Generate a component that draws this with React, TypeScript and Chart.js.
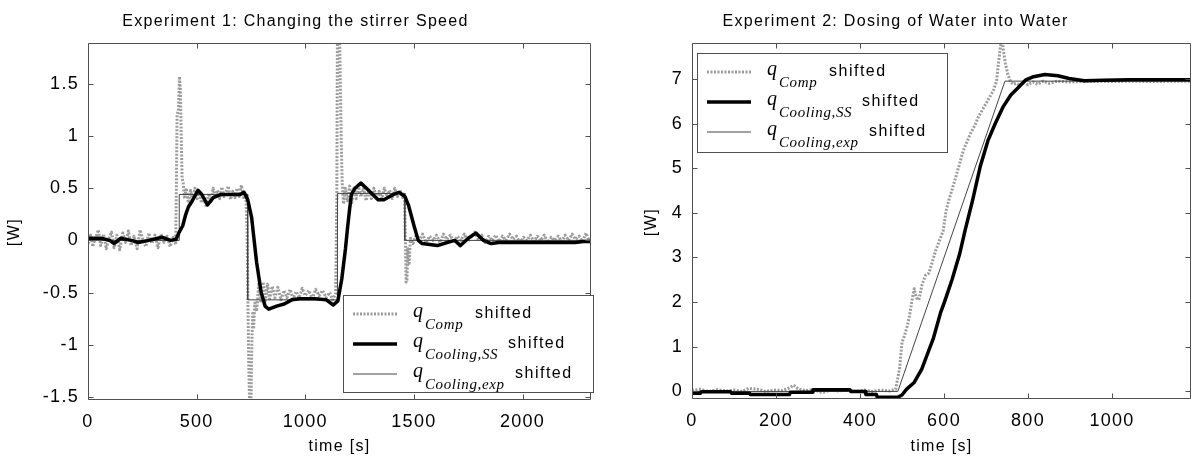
import React, { useEffect, useRef } from 'react';
import { Chart, registerables } from 'chart.js';

Chart.register(...registerables);

const SANS = '"Liberation Sans", Arial, Helvetica, sans-serif';
const SERIF = '"Liberation Serif", "Times New Roman", serif';

// ---------------- Experiment 1 ----------------
const exp1Title = 'Experiment 1: Changing the stirrer Speed';
const exp1XTicks = [0, 500, 1000, 1500, 2000];
const exp1YTicks = [-1.5, -1, -0.5, 0, 0.5, 1, 1.5];
const exp1XRange = [0, 2315];
const exp1YRange = [-1.53, 1.89];

const exp1CompTime = [
  0, 12, 22, 35, 48, 58, 72, 84, 96, 108, 120, 133, 146, 160, 172, 186, 198, 212, 226, 240,
  252, 266, 280, 294, 308, 322, 336, 350, 364, 378, 392, 404, 410, 416, 421, 425, 429, 433, 438, 444,
  452, 462, 472, 482, 492, 502, 512, 522, 532, 544, 556, 566, 576, 586, 596, 606, 616, 626, 636, 646,
  656, 666, 676, 686, 696, 706, 716, 726, 732, 736, 740, 744, 750, 754, 758, 762, 768, 776, 786, 796,
  806, 816, 826, 836, 848, 860, 874, 888, 902, 916, 930, 944, 958, 972, 986, 1000, 1016, 1032, 1048, 1064,
  1080, 1096, 1112, 1126, 1140, 1145, 1148, 1158, 1162, 1166, 1170, 1176, 1184, 1194, 1204, 1214, 1224, 1234, 1244, 1256,
  1268, 1280, 1292, 1304, 1316, 1328, 1340, 1352, 1364, 1376, 1388, 1400, 1412, 1424, 1436, 1448, 1456, 1460, 1464, 1468,
  1472, 1478, 1484, 1496, 1510, 1524, 1540, 1556, 1572, 1588, 1604, 1620, 1636, 1652, 1668, 1684, 1700, 1716, 1732, 1748,
  1764, 1780, 1796, 1812, 1828, 1844, 1860, 1876, 1892, 1908, 1924, 1940, 1956, 1972, 1988, 2004, 2020, 2036, 2052, 2068,
  2084, 2100, 2116, 2132, 2148, 2164, 2180, 2196, 2212, 2228, 2244, 2260, 2276, 2292, 2304, 2315,
];
const exp1CompValue = [
  -0.03, 0.05, -0.06, 0.03, 0.1, -0.05, 0.06, -0.08, 0.02, 0.08, -0.07, 0.05, -0.09, 0.07, -0.02, 0.09, -0.05, 0.04, -0.08, 0.1,
  0.01, -0.06, 0.07, -0.03, 0.05, -0.07, 0.06, -0.02, 0.04, -0.06, 0.03, -0.04, 1.2, 1.25, 1.57, 1.45, 1.0, 0.6, 0.55, 0.4,
  0.5, 0.36, 0.48, 0.38, 0.5, 0.4, 0.47, 0.36, 0.42, 0.32, 0.45, 0.37, 0.5, 0.41, 0.48, 0.4, 0.51, 0.42, 0.47, 0.52,
  0.39, 0.47, 0.41, 0.5, 0.42, 0.53, 0.41, 0.46, 0.1, -0.6, -1.2, -1.58, -1.58, -1.0, -0.7, -0.85, -0.6, -0.68, -0.42, -0.6,
  -0.4, -0.58, -0.42, -0.56, -0.44, -0.55, -0.45, -0.57, -0.48, -0.55, -0.47, -0.56, -0.49, -0.55, -0.46, -0.53, -0.48, -0.56, -0.47, -0.53,
  -0.48, -0.55, -0.5, -0.57, -0.51, 0.4, 1.95, 1.95, 1.4, 0.9, 0.55, 0.35, 0.5, 0.38, 0.52, 0.36, 0.5, 0.4, 0.53, 0.42,
  0.5, 0.38, 0.48, 0.4, 0.5, 0.39, 0.47, 0.4, 0.5, 0.42, 0.48, 0.4, 0.5, 0.42, 0.48, 0.41, 0.46, 0.1, -0.4, -0.38,
  -0.08, -0.22, 0.02, -0.03, 0.05, 0.0, 0.06, -0.02, 0.04, 0.0, 0.05, -0.02, 0.06, 0.01, 0.05, -0.02, 0.04, 0.0, 0.06, -0.01,
  0.04, 0.08, 0.01, 0.05, -0.02, 0.04, 0.0, 0.05, -0.01, 0.04, 0.0, 0.06, 0.01, 0.04, -0.02, 0.03, 0.0, 0.05, -0.01, 0.04,
  0.0, 0.05, -0.02, 0.03, 0.0, 0.04, -0.01, 0.05, 0.0, 0.06, 0.01, 0.04, -0.01, 0.07, 0.0, 0.02,
];

const exp1SsTime = [
  0, 60, 100, 120, 150, 200, 230, 280, 340, 380, 405, 420, 436, 450, 462, 480, 506, 524, 550, 577,
  612, 700, 718, 735, 753, 762, 776, 797, 815, 832, 868, 903, 938, 974, 1044, 1097, 1129, 1150, 1168, 1185,
  1194, 1203, 1212, 1229, 1256, 1291, 1335, 1362, 1406, 1432, 1459, 1476, 1503, 1520, 1538, 1573, 1608, 1653, 1688, 1714,
  1750, 1785, 1820, 1855, 1891, 1979, 2067, 2155, 2243, 2279, 2315,
];
const exp1SsValue = [
  0.02, 0.02, 0.0, -0.03, 0.02, 0.0, -0.02, 0.0, 0.03, 0.0, 0.01, 0.08, 0.14, 0.25, 0.32, 0.38, 0.48, 0.44, 0.34, 0.41,
  0.44, 0.44, 0.46, 0.39, 0.22, 0.05, -0.21, -0.5, -0.63, -0.66, -0.63, -0.61, -0.57, -0.56, -0.56, -0.57, -0.62, -0.58, -0.37, -0.08,
  0.11, 0.28, 0.44, 0.5, 0.55, 0.48, 0.39, 0.39, 0.44, 0.46, 0.42, 0.33, 0.12, 0.0, -0.03, -0.04, -0.05, -0.02, 0.0, -0.05,
  0.02, 0.07, 0.0, -0.03, -0.02, -0.02, -0.02, -0.02, -0.02, -0.01, -0.01,
];

const exp1ExpTime = [0, 420, 420, 735, 735, 1148, 1148, 1458, 1458, 2315];
const exp1ExpValue = [0, 0, 0.44, 0.44, -0.57, -0.57, 0.45, 0.45, 0, 0];

// ---------------- Experiment 2 ----------------
const exp2Title = 'Experiment 2: Dosing of Water into Water';
const exp2XTicks = [0, 200, 400, 600, 800, 1000];
const exp2YTicks = [0, 1, 2, 3, 4, 5, 6, 7];
const exp2XRange = [0, 1188];
const exp2YRange = [-0.17, 7.8];

const exp2CompTime = [
  0, 20, 40, 60, 80, 100, 120, 135, 155, 175, 195, 215, 232, 242, 252, 270, 290, 310, 330, 350,
  370, 390, 410, 430, 450, 470, 485, 490, 494, 500, 506, 512, 518, 524, 529, 534, 540, 548, 556, 564,
  572, 580, 590, 598, 605, 612, 620, 628, 637, 646, 655, 664, 673, 682, 691, 700, 709, 718, 725, 729,
  734, 738, 742, 746, 752, 758, 764, 772, 780, 790, 800, 812, 824, 836, 850, 870, 900, 950, 1000, 1050,
  1100, 1150, 1188,
];
const exp2CompValue = [
  0.02, 0.05, 0.0, 0.04, 0.01, 0.03, 0.0, 0.07, 0.05, 0.0, 0.03, 0.02, 0.08, 0.14, 0.06, 0.02, 0.04, -0.03, 0.03, 0.01,
  0.04, 0.0, 0.03, 0.0, 0.03, 0.01, 0.05, 0.3, 0.5, 1.1, 1.25, 1.45, 1.7, 2.05, 2.3, 2.1, 2.05, 2.4, 2.6, 2.65,
  2.9, 3.15, 3.4, 3.6, 4.05, 4.3, 4.55, 4.8, 5.1, 5.4, 5.6, 5.8, 5.95, 6.15, 6.3, 6.45, 6.6, 6.75, 6.95, 7.3,
  7.7, 7.9, 7.6, 7.35, 7.1, 6.95, 6.88, 6.9, 6.86, 6.92, 6.87, 6.93, 6.88, 6.95, 6.9, 6.95, 6.93, 6.95, 6.94, 6.95,
  6.94, 6.95, 6.95,
];

const exp2SsTime = [
  0, 20, 22, 92, 94, 137, 139, 232, 234, 286, 288, 376, 378, 412, 414, 439, 441, 490, 500, 511,
  529, 547, 565, 574, 592, 601, 619, 637, 650, 668, 686, 705, 722, 741, 759, 777, 795, 813, 840, 871,
  898, 934, 979, 1042, 1188,
];
const exp2SsValue = [
  -0.04, -0.04, -0.01, -0.01, -0.04, -0.04, -0.07, -0.07, -0.02, -0.02, 0.04, 0.04, 0.0, 0.0, -0.07, -0.07, -0.13, -0.13, -0.08, 0.05,
  0.2, 0.5, 0.95, 1.17, 1.77, 2.0, 2.5, 3.07, 3.6, 4.28, 5.03, 5.63, 6.0, 6.38, 6.64, 6.81, 6.98, 7.05, 7.1, 7.07,
  7.01, 6.96, 6.97, 6.98, 6.98,
];

const exp2ExpTime = [0, 490, 745, 1188];
const exp2ExpValue = [0, 0, 6.95, 6.95];

// ---------------- Labels ----------------
const xAxisLabel = 'time [s]';
const yAxisLabel = '[W]';
const legendSymbol = 'q';
const legendSubscripts = ['Comp', 'Cooling,SS', 'Cooling,exp'];
const legendSuffix = 'shifted';

// ---------------- Styles ----------------
const compStyle = { color: '#9c9c9c', width: 3, dash: [2, 1.5] };
const ssStyle = { color: '#000000', width: 3.5, dash: [] as number[] };
const expStyle = { color: '#444444', width: 1, dash: [] as number[] };
const legendStyles = [compStyle, ssStyle, expStyle];
const legendSuffixX = [132, 165, 172];

function pts(t: number[], v: number[]) {
  return t.map((x, i) => ({ x, y: v[i] }));
}

const framePlugin = {
  id: 'matlabFrame',
  beforeDraw(chart: any) {
    chart.ctx.letterSpacing = '1.3px';
  },
  afterDatasetsDraw(chart: any) {
    const { ctx, chartArea: a } = chart;
    const xs = chart.scales.x;
    const ys = chart.scales.y;
    const L = Math.round(a.left) + 0.5;
    const R = Math.round(a.right) - 0.5;
    const T = Math.round(a.top) + 0.5;
    const B = Math.round(a.bottom) - 0.5;
    const tl = 5;
    ctx.save();
    ctx.setLineDash([]);
    ctx.strokeStyle = '#505050';
    ctx.lineWidth = 1;
    ctx.beginPath();
    ctx.rect(L, T, R - L, B - T);
    xs.ticks.forEach((t: any) => {
      const px = Math.round(xs.getPixelForValue(t.value)) + 0.5;
      ctx.moveTo(px, B);
      ctx.lineTo(px, B - tl);
      ctx.moveTo(px, T);
      ctx.lineTo(px, T + tl);
    });
    ys.ticks.forEach((t: any) => {
      const py = Math.round(ys.getPixelForValue(t.value)) + 0.5;
      ctx.moveTo(L, py);
      ctx.lineTo(L + tl, py);
      ctx.moveTo(R, py);
      ctx.lineTo(R - tl, py);
    });
    ctx.stroke();
    ctx.restore();
  },
};

function makeYLabel(cx: number, cy: number) {
  return {
    id: 'yLabel',
    afterDraw(chart: any) {
      const ctx = chart.ctx;
      ctx.save();
      ctx.translate(cx, cy);
      ctx.rotate(-Math.PI / 2);
      ctx.font = `16px ${SANS}`;
      ctx.letterSpacing = '1.5px';
      ctx.fillStyle = '#000000';
      ctx.textAlign = 'center';
      ctx.textBaseline = 'middle';
      ctx.fillText(yAxisLabel, 0, 0);
      ctx.restore();
    },
  };
}

function makeLegend(box: { x: number; y: number; w: number; h: number }) {
  return {
    id: 'qLegend',
    afterDraw(chart: any) {
      const ctx = chart.ctx;
      ctx.save();
      ctx.letterSpacing = '0px';
      ctx.setLineDash([]);
      ctx.fillStyle = '#ffffff';
      ctx.fillRect(box.x, box.y, box.w, box.h);
      ctx.strokeStyle = '#505050';
      ctx.lineWidth = 1;
      ctx.strokeRect(box.x + 0.5, box.y + 0.5, box.w - 1, box.h - 1);
      legendSubscripts.forEach((sub, i) => {
        const st = legendStyles[i];
        const cy = box.y + 19 + i * 30;
        ctx.beginPath();
        ctx.setLineDash(st.dash);
        ctx.strokeStyle = st.color;
        ctx.lineWidth = st.width;
        ctx.moveTo(box.x + 10, cy);
        ctx.lineTo(box.x + 54, cy);
        ctx.stroke();
        ctx.setLineDash([]);
        ctx.fillStyle = '#000000';
        ctx.textAlign = 'left';
        ctx.textBaseline = 'alphabetic';
        ctx.font = `italic 20px ${SERIF}`;
        ctx.letterSpacing = '0px';
        ctx.fillText(legendSymbol, box.x + 70, cy + 3);
        ctx.font = `italic 15px ${SERIF}`;
        ctx.letterSpacing = '0.6px';
        ctx.fillText(sub, box.x + 82, cy + 15);
        ctx.font = `16px ${SANS}`;
        ctx.letterSpacing = '1.5px';
        ctx.fillText(legendSuffix, box.x + legendSuffixX[i], cy + 4);
      });
      ctx.restore();
    },
  };
}

interface PanelCfg {
  title: string;
  xTicks: number[];
  yTicks: number[];
  xRange: number[];
  yRange: number[];
  comp: { x: number; y: number }[];
  ss: { x: number; y: number }[];
  exp: { x: number; y: number }[];
  yAxisWidth: number;
  xAxisHeight: number;
  rightPad: number;
  yLabelPos: number[];
  legendBox: { x: number; y: number; w: number; h: number };
}

function buildConfig(p: PanelCfg): any {
  const lineDs = (label: string, data: any[], st: any, order: number) => ({
    label,
    data,
    borderColor: st.color,
    borderWidth: st.width,
    borderDash: st.dash,
    pointRadius: 0,
    pointHoverRadius: 0,
    tension: 0,
    fill: false,
    order,
    clip: 0,
    borderJoinStyle: 'round',
    borderCapStyle: st.dash.length ? 'butt' : 'round',
  });
  return {
    type: 'line',
    data: {
      datasets: [
        lineDs('q_Comp shifted', p.comp, compStyle, 2),
        lineDs('q_Cooling,SS shifted', p.ss, ssStyle, 0),
        lineDs('q_Cooling,exp shifted', p.exp, expStyle, 1),
      ],
    },
    options: {
      responsive: false,
      animation: false,
      events: [],
      layout: { padding: { top: 0, left: 0, bottom: 0, right: p.rightPad } },
      plugins: {
        legend: { display: false },
        tooltip: { enabled: false },
        title: {
          display: true,
          text: p.title,
          color: '#000000',
          font: { family: SANS, size: 16, weight: 'normal', lineHeight: 1.2 },
          padding: { top: 12, bottom: 12 },
        },
      },
      scales: {
        x: {
          type: 'linear',
          min: p.xRange[0],
          max: p.xRange[1],
          grid: { display: false, drawTicks: false },
          border: { display: false },
          afterBuildTicks: (scale: any) => {
            scale.ticks = p.xTicks.map((v) => ({ value: v }));
          },
          afterFit: (scale: any) => {
            scale.height = p.xAxisHeight;
          },
          ticks: {
            autoSkip: false,
            maxRotation: 0,
            padding: 11,
            color: '#000000',
            font: { family: SANS, size: 18 },
            callback: (v: any) => String(v),
          },
          title: {
            display: true,
            text: xAxisLabel,
            color: '#000000',
            font: { family: SANS, size: 16 },
            padding: { top: 0, bottom: 5 },
          },
        },
        y: {
          type: 'linear',
          min: p.yRange[0],
          max: p.yRange[1],
          grid: { display: false, drawTicks: false },
          border: { display: false },
          afterBuildTicks: (scale: any) => {
            scale.ticks = p.yTicks.map((v) => ({ value: v }));
          },
          afterFit: (scale: any) => {
            scale.width = p.yAxisWidth;
          },
          ticks: {
            autoSkip: false,
            padding: 9,
            color: '#000000',
            font: { family: SANS, size: 18 },
            callback: (v: any) => String(v),
          },
          title: { display: false },
        },
      },
    },
    plugins: [framePlugin, makeYLabel(p.yLabelPos[0], p.yLabelPos[1]), makeLegend(p.legendBox)],
  };
}

function Panel({ width, height, cfg }: { width: number; height: number; cfg: PanelCfg }) {
  const ref = useRef<HTMLCanvasElement | null>(null);
  useEffect(() => {
    if (!ref.current) return;
    const chart = new Chart(ref.current, buildConfig(cfg));
    return () => chart.destroy();
  }, []);
  return (
    <canvas
      ref={ref}
      width={width}
      height={height}
      style={{ display: 'block', width: `${width}px`, height: `${height}px` }}
    />
  );
}

const leftCfg: PanelCfg = {
  title: exp1Title,
  xTicks: exp1XTicks,
  yTicks: exp1YTicks,
  xRange: exp1XRange,
  yRange: exp1YRange,
  comp: pts(exp1CompTime, exp1CompValue),
  ss: pts(exp1SsTime, exp1SsValue),
  exp: pts(exp1ExpTime, exp1ExpValue),
  yAxisWidth: 88,
  xAxisHeight: 61,
  rightPad: 9,
  yLabelPos: [15, 232],
  legendBox: { x: 343, y: 295, w: 251, h: 98 },
};

const rightCfg: PanelCfg = {
  title: exp2Title,
  xTicks: exp2XTicks,
  yTicks: exp2YTicks,
  xRange: exp2XRange,
  yRange: exp2YRange,
  comp: pts(exp2CompTime, exp2CompValue),
  ss: pts(exp2SsTime, exp2SsValue),
  exp: pts(exp2ExpTime, exp2ExpValue),
  yAxisWidth: 92,
  xAxisHeight: 62,
  rightPad: 2,
  yLabelPos: [52, 222],
  legendBox: { x: 97, y: 53, w: 251, h: 100 },
};

export default function App() {
  return (
    <div style={{ position: 'absolute', left: 0, top: 0, width: 1193, height: 461, background: '#ffffff' }}>
      <div style={{ position: 'absolute', left: 0, top: 0 }}>
        <Panel width={600} height={461} cfg={leftCfg} />
      </div>
      <div style={{ position: 'absolute', left: 600, top: 0 }}>
        <Panel width={593} height={461} cfg={rightCfg} />
      </div>
    </div>
  );
}
